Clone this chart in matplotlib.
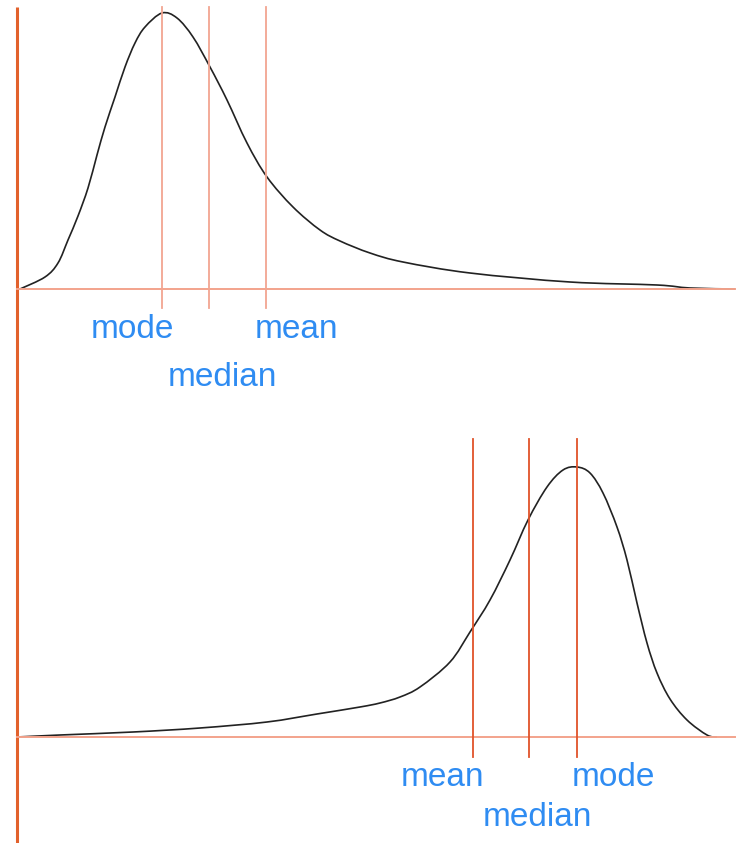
"""
Skewed distributions: where mode, median and mean fall.
Two density sketches drawn in one canvas (pixel-like units, y grows down).
"""
import matplotlib
matplotlib.use("Agg")
import matplotlib.pyplot as plt
from matplotlib.path import Path
from matplotlib.patches import PathPatch

plt.rcParams["font.family"] = ["Liberation Sans", "DejaVu Sans"]

W, H = 740, 843

# right-skewed curve (top): x and height above its baseline
top_base = 289
top_x = [20, 45, 58, 68, 78, 88, 97, 105, 115, 125, 135, 145, 162, 177, 193,
         210, 227, 247, 267, 293, 320, 340, 370, 403, 470, 570, 657, 690, 735]
top_h = [0, 12, 26, 49, 73, 101, 134, 162, 192, 222, 246, 262, 276, 271, 252,
         222, 189, 146, 112, 82, 59, 48, 36, 27, 16, 7, 4, 1, 0]
top_marks = {"mode": 162, "median": 209, "mean": 266}

# left-skewed curve (bottom)
bot_x = [17, 60, 133, 200, 267, 317, 360, 380, 400, 420, 450, 470, 490, 510,
         528, 547, 563, 577, 590, 603, 617, 627, 637, 647, 657, 670, 687, 707, 717]
bot_h = [0, 2, 5, 9, 15, 23, 30, 34, 40, 50, 75, 105, 137, 177,
         217, 250, 267, 270, 264, 244, 210, 177, 134, 94, 64, 38, 17, 2, 0]
bot_base = 737
bot_marks = {"mean": 473, "median": 529, "mode": 577}

# label anchor positions (centre of text)
top_labels = [("mode", 132, 330), ("mean", 296, 330), ("median", 222, 377)]
bot_labels = [("mean", 442, 777), ("mode", 613, 777), ("median", 537, 817)]

AXIS_C = "#E2612C"
BASE_C = "#F3A38C"
TOP_LINE_C = "#F2A591"
BOT_LINE_C = "#E0532A"
TEXT_C = "#2F8CF2"


def smooth_path(xs, ys):
    # catmull-rom style bezier through the read points, for a hand-drawn look
    pts = list(zip(xs, ys))
    verts = [pts[0]]
    codes = [Path.MOVETO]
    for i in range(len(pts) - 1):
        p0 = pts[i - 1] if i > 0 else pts[i]
        p1, p2 = pts[i], pts[i + 1]
        p3 = pts[i + 2] if i + 2 < len(pts) else pts[i + 1]
        c1 = (p1[0] + (p2[0] - p0[0]) / 6, p1[1] + (p2[1] - p0[1]) / 6)
        c2 = (p2[0] - (p3[0] - p1[0]) / 6, p2[1] - (p3[1] - p1[1]) / 6)
        verts += [c1, c2, p2]
        codes += [Path.CURVE4] * 3
    return Path(verts, codes)


fig = plt.figure(figsize=(W / 100, H / 100), dpi=100)
ax = fig.add_axes([0, 0, 1, 1])
ax.set_xlim(0, W)
ax.set_ylim(H, 0)
ax.axis("off")

# left vertical axis spanning both panels
ax.plot([17, 17], [7, H], color=AXIS_C, lw=2.2, solid_capstyle="butt")

# baselines
ax.plot([17, 735], [top_base, top_base], color=BASE_C, lw=1.4)
ax.plot([17, 735], [bot_base, bot_base], color=BASE_C, lw=1.4)

# marker lines
for x in top_marks.values():
    ax.plot([x, x], [7, 308], color=TOP_LINE_C, lw=1.3)
for x in bot_marks.values():
    ax.plot([x, x], [439, 757], color=BOT_LINE_C, lw=1.3)

# curves
ax.add_patch(PathPatch(smooth_path(top_x, [top_base - h for h in top_h]),
                       fill=False, edgecolor="#222222", lw=1.2))
ax.add_patch(PathPatch(smooth_path(bot_x, [bot_base - h for h in bot_h]),
                       fill=False, edgecolor="#222222", lw=1.2))

for txt, x, y in top_labels + bot_labels:
    ax.text(x, y, txt, color=TEXT_C, fontsize=24, ha="center", va="center")

fig.savefig("out.png", dpi=100)
